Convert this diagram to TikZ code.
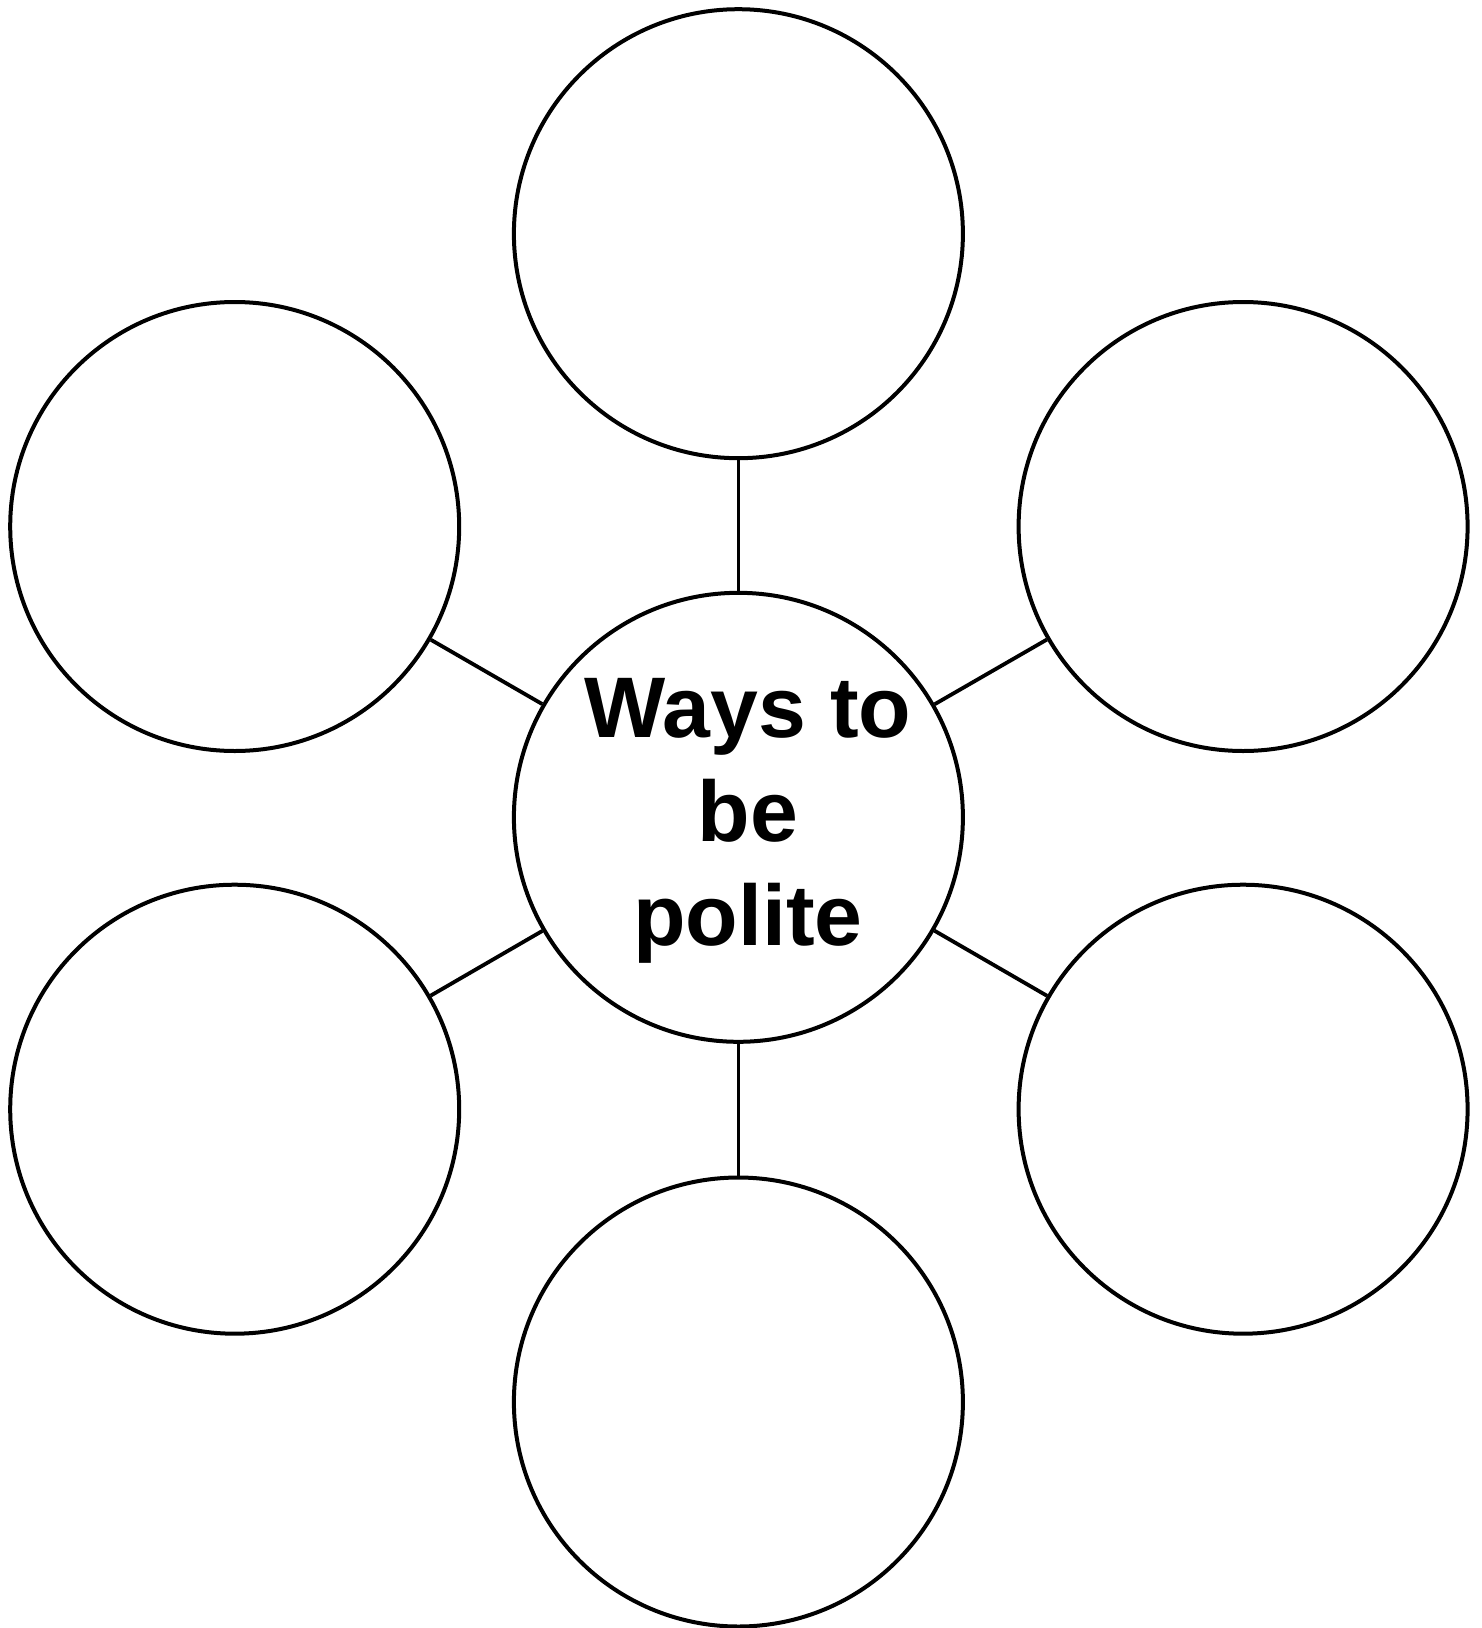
\documentclass[tikz,border=0pt]{standalone}
\usepackage{fontspec}
\setmainfont{Liberation Sans}
\begin{document}
\begin{tikzpicture}[x=0.5pt,y=-0.5pt,
  bubble/.style={circle,draw=black,line width=2pt,minimum size=224.5pt,inner sep=0pt},
  link/.style={draw=black,line width=1.9pt},
  lbl/.style={font=\fontsize{43}{52}\selectfont\bfseries,align=center}]
\useasboundingbox (0,0) rectangle (1482,1628);
\node[bubble] (c) at (738.4,817.3) {};
\node[bubble] (t) at (738.4,233.7) {};
\node[bubble] (tl) at (234.7,526.5) {};
\node[bubble] (tr) at (1243.1,526.5) {};
\node[bubble] (bl) at (234.7,1109.2) {};
\node[bubble] (br) at (1243.1,1109.2) {};
\node[bubble] (b) at (738.4,1402) {};
\node[lbl] (txt) at (748,821) {Ways to\\be\\polite};
\foreach \n in {t,tl,tr,bl,br,b} \draw[link] (c) -- (\n);
\end{tikzpicture}
\end{document}
